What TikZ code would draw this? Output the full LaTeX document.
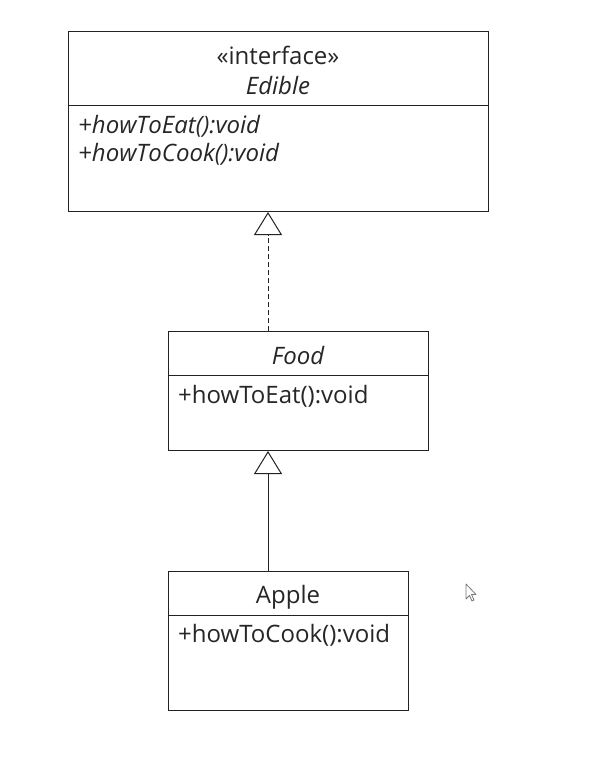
\documentclass[tikz,border=0pt]{standalone}
\usepackage{fontspec}
\setmainfont{Open Sans}
\usetikzlibrary{arrows.meta, positioning}
\definecolor{umlink}{RGB}{38,38,38}
\definecolor{umlline}{RGB}{34,34,34}
\definecolor{cursorgray}{RGB}{120,120,120}

\begin{document}
\begin{tikzpicture}[x=1pt, y=-1pt,
  every node/.style={font=\fontsize{24}{28}\selectfont, text=umlink, inner sep=0pt},
  classbox/.style={draw=umlline, line width=1pt, anchor=north west, fill=white},
  title/.style={anchor=base},
  member/.style={anchor=base west},
  realize/.style={draw=umlline, line width=1pt, dash pattern=on 5pt off 3pt,
                  -{Triangle[open, length=23pt, width=28pt, fill=white]}},
  inherit/.style={draw=umlline, line width=1pt,
                  -{Triangle[open, length=23pt, width=28pt, fill=white]}}]
  \useasboundingbox (0,0) rectangle (606,781);
  \coordinate (spine) at (268,0);

  % Box 1
  \node[classbox, minimum width=420pt, minimum height=180pt] (edible) at (68,31) {};
  \draw[umlline, line width=1pt] (edible.west |- 0,106) -- (edible.east |- 0,106);
  \node[title] (ediblestereo) at (278,65) {«interface»};
  \node[title, font=\fontsize{24}{28}\selectfont\itshape] (ediblename) at (278,95) {Edible};
  \node[member, font=\fontsize{24}{28}\selectfont\itshape] (edibleeat) at (78,133) {+howToEat():void};
  \node[member, font=\fontsize{24}{28}\selectfont\itshape] (ediblecook) at (78,161) {+howToCook():void};

  % Box 2
  \node[classbox, minimum width=260pt, minimum height=119pt] (food) at (168,331) {};
  \draw[umlline, line width=1pt] (food.west |- 0,375) -- (food.east |- 0,375);
  \node[title, font=\fontsize{24}{28}\selectfont\itshape] (foodname) at (298,364) {Food};
  \node[member] (foodeat) at (178,403) {+howToEat():void};

  % Box 3
  \node[classbox, minimum width=240pt, minimum height=139pt] (apple) at (168,571) {};
  \draw[umlline, line width=1pt] (apple.west |- 0,615) -- (apple.east |- 0,615);
  \node[title] (applename) at (288,603) {Apple};
  \node[member] (applecook) at (178,642) {+howToCook():void};

  % Arrows between boxes
  \draw[realize] (spine |- food.north) -- (spine |- edible.south);
  \draw[inherit] (spine |- apple.north) -- (spine |- food.south);

  % Mouse pointer
  \draw[cursorgray, fill=white, line width=0.8pt, line join=round, shift={(466,584)}]
    (0,0) -- (0,15) -- (3.5,11.5) -- (6,17) -- (8,16) -- (5.5,10.5) -- (10,10.5) -- cycle;
\end{tikzpicture}
\end{document}
